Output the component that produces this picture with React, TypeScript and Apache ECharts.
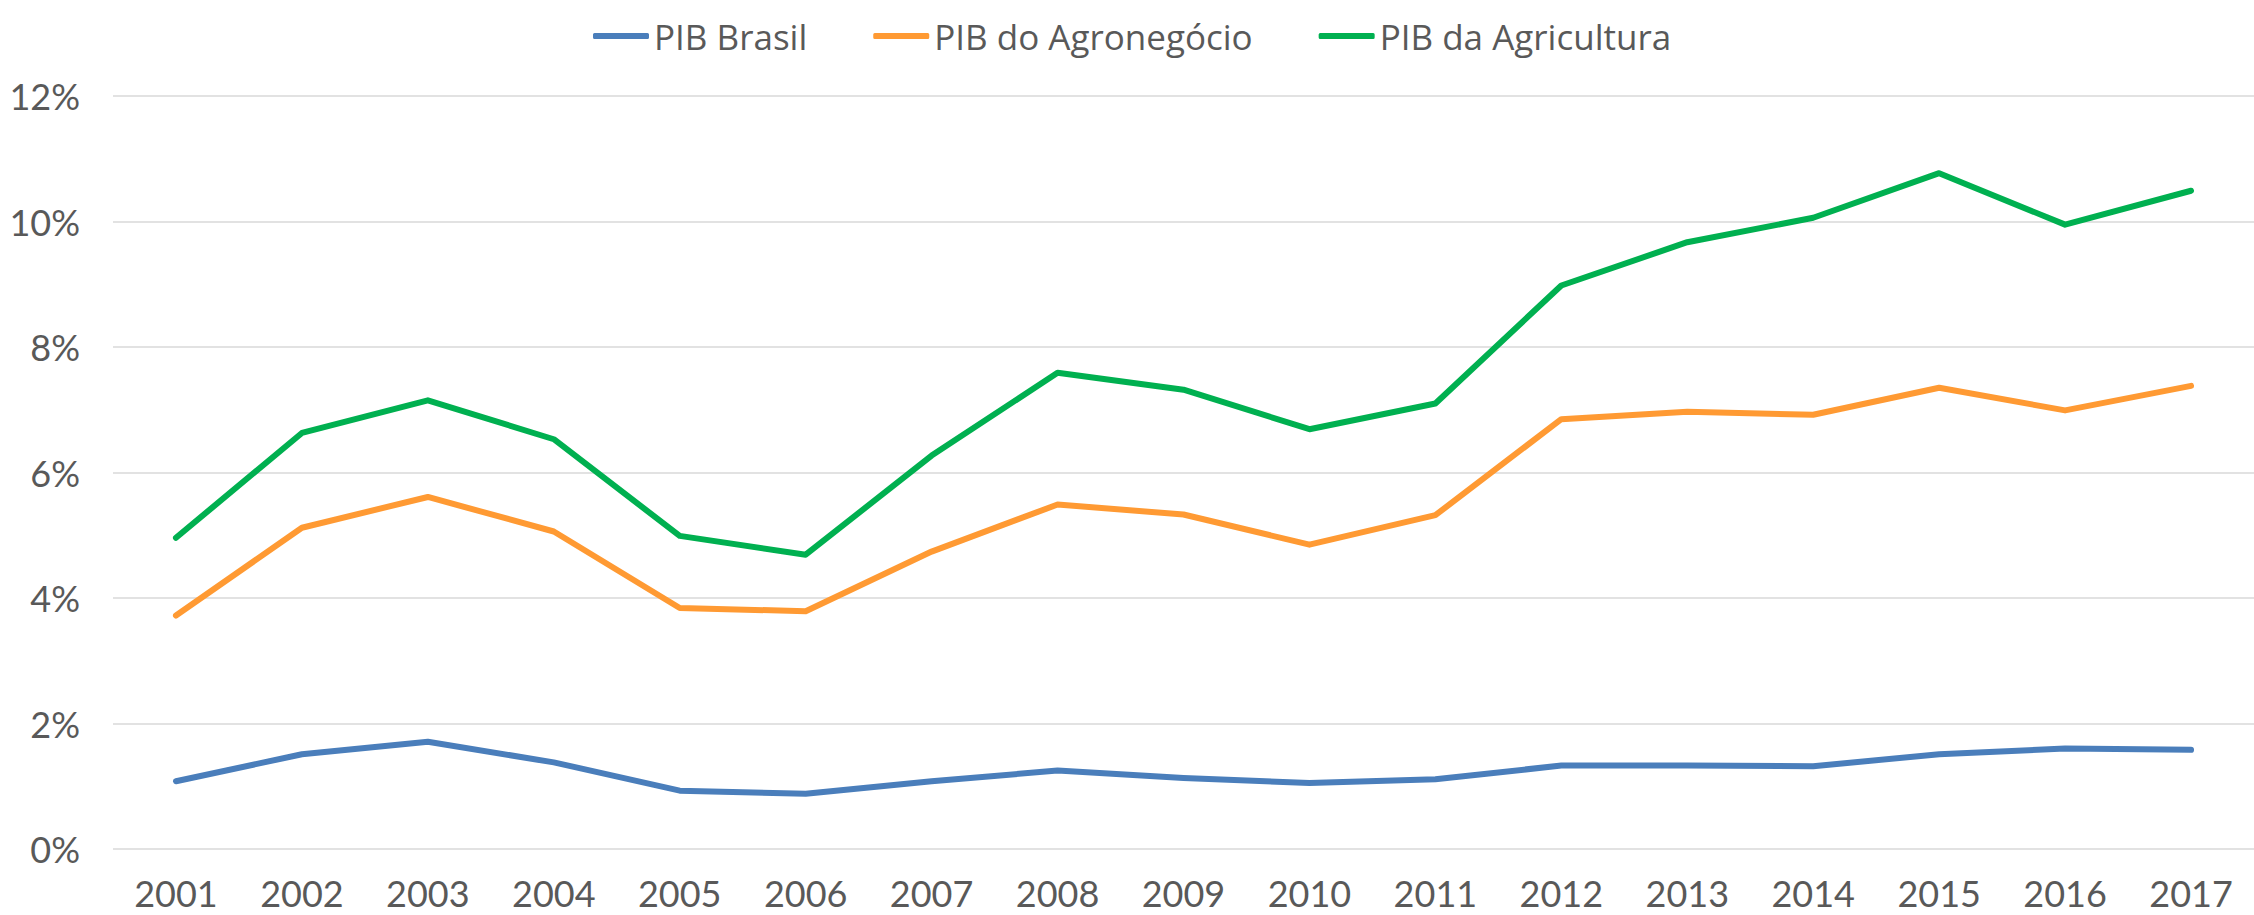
import React, { useEffect, useRef } from "react";
import * as echarts from "echarts";

const years = ["2001","2002","2003","2004","2005","2006","2007","2008","2009","2010","2011","2012","2013","2014","2015","2016","2017"];
const pibBrasil = [1.08, 1.51, 1.71, 1.38, 0.93, 0.88, 1.08, 1.25, 1.13, 1.05, 1.11, 1.33, 1.33, 1.32, 1.51, 1.60, 1.58];
const pibAgronegocio = [3.72, 5.12, 5.61, 5.06, 3.84, 3.79, 4.74, 5.49, 5.33, 4.85, 5.32, 6.85, 6.97, 6.92, 7.35, 6.99, 7.38];
const pibAgricultura = [4.96, 6.63, 7.15, 6.53, 4.99, 4.69, 6.27, 7.59, 7.32, 6.69, 7.10, 8.98, 9.67, 10.06, 10.77, 9.95, 10.49];
const seriesNames = ["PIB Brasil", "PIB do Agronegócio", "PIB da Agricultura"];
const colors = ["#4A7EBB", "#FF9A33", "#00B050"];

const FONT = "'Century Gothic', Lato, sans-serif";
const LEGEND_FONT = "'Century Gothic', 'Open Sans', sans-serif";
const TEXT = "#595959";

export default function App() {
  const ref = useRef<HTMLDivElement>(null);
  useEffect(() => {
    if (!ref.current) return;
    const chart = echarts.init(ref.current, null, { renderer: "svg" });
    const data = [pibBrasil, pibAgronegocio, pibAgricultura];
    chart.setOption({
      animation: false,
      backgroundColor: "#FFFFFF",
      legend: {
        left: 588,
        top: 12,
        icon: "roundRect",
        itemWidth: 56,
        itemHeight: 6,
        itemGap: 66,
        textStyle: { fontFamily: LEGEND_FONT, fontSize: 35, color: TEXT, lineHeight: 38 },
        data: seriesNames,
      },
      grid: { left: 113, top: 96, width: 2156, height: 753, containLabel: false },
      xAxis: {
        type: "category",
        data: years,
        boundaryGap: true,
        axisLine: { show: false },
        axisTick: { show: false },
        axisLabel: { fontFamily: FONT, fontSize: 36, color: TEXT, margin: 26, lineHeight: 36 },
      },
      yAxis: {
        type: "value",
        min: 0,
        max: 12,
        interval: 2,
        axisLine: { show: false },
        axisTick: { show: false },
        axisLabel: { formatter: "{value}%", fontFamily: FONT, fontSize: 36, color: TEXT, margin: 33 },
        splitLine: { lineStyle: { color: "#D9D9D9", width: 1.5 } },
      },
      series: seriesNames.map((name, i) => ({
        name,
        type: "line",
        data: data[i],
        symbol: "none",
        showSymbol: false,
        color: colors[i],
        lineStyle: { color: colors[i], width: 6, cap: "round", join: "round" },
        itemStyle: { color: colors[i] },
      })),
    });
    return () => chart.dispose();
  }, []);
  return (
    <div
      ref={ref}
      style={{ position: "absolute", left: 0, top: 0, width: 2254, height: 915 }}
    />
  );
}
